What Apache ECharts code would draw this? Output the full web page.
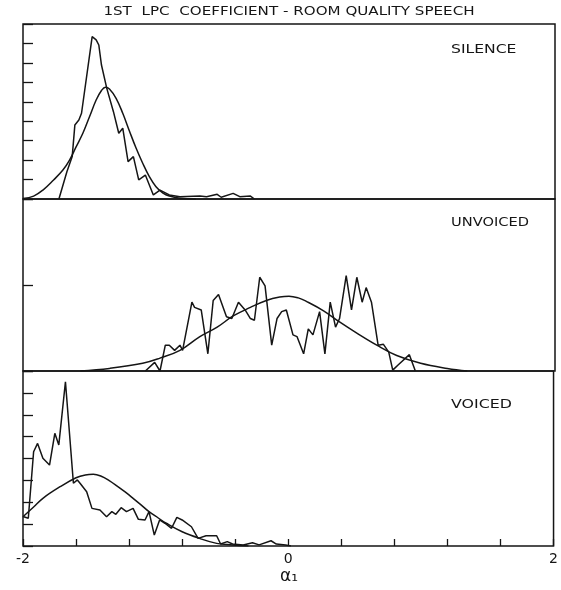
<!DOCTYPE html>
<html>
<head>
<meta charset="utf-8">
<script src="https://cdn.jsdelivr.net/npm/echarts@6/dist/echarts.min.js"></script>
<style>
  html, body { margin: 0; padding: 0; background: #fff; }
  #chart { width: 561px; height: 590px; }
</style>
</head>
<body>
<div id="chart"></div>
<script>
// histogram (jagged) and fitted curve of each class, [alpha1, count]
var silenceHist = [[-1.73,0],[-1.67,1.40],[-1.63,2.18],[-1.61,3.81],[-1.58,4.06],[-1.56,4.41],[-1.48,8.35],[-1.45,8.18],[-1.43,7.92],[-1.41,6.89],[-1.37,5.69],[-1.32,4.49],[-1.28,3.38],[-1.25,3.64],[-1.21,1.92],[-1.17,2.18],[-1.13,0.98],[-1.08,1.23],[-1.02,0.21],[-0.97,0.46],[-0.90,0.21],[-0.82,0.12],[-0.67,0.15],[-0.62,0.12],[-0.54,0.24],[-0.51,0.09],[-0.42,0.29],[-0.37,0.12],[-0.29,0.15],[-0.26,0]];
var silenceFit = [[-2.0,0.02],[-1.92,0.15],[-1.85,0.46],[-1.77,0.98],[-1.70,1.49],[-1.65,2.0],[-1.60,2.69],[-1.55,3.38],[-1.50,4.23],[-1.45,5.09],[-1.41,5.58],[-1.38,5.75],[-1.35,5.66],[-1.30,5.18],[-1.25,4.41],[-1.20,3.50],[-1.15,2.62],[-1.10,1.84],[-1.05,1.15],[-1.00,0.63],[-0.95,0.32],[-0.90,0.15],[-0.82,0.04],[-0.70,0]];

var unvoicedHist = [[-1.08,0],[-1.01,0.10],[-0.97,0],[-0.93,0.30],[-0.90,0.30],[-0.86,0.24],[-0.82,0.30],[-0.80,0.24],[-0.73,0.80],[-0.71,0.74],[-0.66,0.71],[-0.61,0.20],[-0.57,0.82],[-0.53,0.89],[-0.47,0.63],[-0.43,0.61],[-0.38,0.80],[-0.33,0.71],[-0.29,0.61],[-0.26,0.59],[-0.22,1.09],[-0.18,0.99],[-0.13,0.30],[-0.09,0.61],[-0.055,0.69],[-0.02,0.71],[0.03,0.42],[0.06,0.40],[0.11,0.20],[0.145,0.49],[0.18,0.42],[0.23,0.69],[0.27,0.20],[0.31,0.80],[0.35,0.51],[0.38,0.61],[0.43,1.11],[0.47,0.71],[0.51,1.09],[0.55,0.80],[0.58,0.97],[0.62,0.80],[0.67,0.30],[0.71,0.31],[0.75,0.22],[0.78,0.01],[0.82,0.07],[0.905,0.19],[0.95,0]];
var unvoicedFit = [[-1.57,0],[-1.35,0.03],[-1.10,0.09],[-0.97,0.15],[-0.82,0.24],[-0.67,0.40],[-0.54,0.51],[-0.42,0.64],[-0.29,0.74],[-0.17,0.82],[-0.07,0.86],[0.0,0.87],[0.07,0.85],[0.13,0.81],[0.26,0.70],[0.38,0.57],[0.51,0.44],[0.66,0.30],[0.81,0.18],[0.99,0.09],[1.19,0.03],[1.34,0]];

var voicedHist = [[-2.0,1.35],[-1.96,1.27],[-1.92,4.31],[-1.89,4.69],[-1.85,4.01],[-1.80,3.70],[-1.76,5.15],[-1.73,4.62],[-1.68,7.51],[-1.62,2.87],[-1.59,3.02],[-1.57,2.87],[-1.52,2.48],[-1.48,1.72],[-1.42,1.65],[-1.37,1.34],[-1.33,1.57],[-1.30,1.45],[-1.26,1.75],[-1.22,1.57],[-1.17,1.72],[-1.13,1.22],[-1.08,1.19],[-1.05,1.57],[-1.01,0.50],[-0.97,1.19],[-0.93,1.04],[-0.88,0.81],[-0.84,1.31],[-0.80,1.19],[-0.73,0.88],[-0.68,0.35],[-0.62,0.47],[-0.54,0.47],[-0.51,0.09],[-0.46,0.20],[-0.42,0.09],[-0.34,0.05],[-0.27,0.15],[-0.22,0.05],[-0.13,0.24],[-0.09,0.09],[-0.02,0.05],[0.02,0]];
var voicedFit = [[-2.0,1.34],[-1.92,1.78],[-1.85,2.18],[-1.72,2.71],[-1.60,3.12],[-1.53,3.25],[-1.47,3.28],[-1.41,3.19],[-1.35,2.99],[-1.29,2.74],[-1.23,2.47],[-1.17,2.18],[-1.11,1.88],[-1.05,1.57],[-0.98,1.28],[-0.92,1.04],[-0.80,0.65],[-0.67,0.35],[-0.54,0.12],[-0.42,0.05],[-0.30,0]];

var panelNames = ['SILENCE', 'UNVOICED', 'VOICED'];
var yMax = [9, 2, 8];
var xTickLabels = ['-2', '0', '2'];
var titleText = '1ST  LPC  COEFFICIENT - ROOM QUALITY SPEECH';

var ink = '#151515';
var font = 'DejaVu Sans';

function xLabel(v) {
  var r = Math.round(v * 10) / 10;
  if (r === -2) return xTickLabels[0];
  if (r === 0) return xTickLabels[1];
  if (r === 2) return xTickLabels[2];
  return '';
}

function lineSeries(data, idx, smooth) {
  return {
    type: 'line',
    xAxisIndex: idx,
    yAxisIndex: idx,
    data: data,
    showSymbol: false,
    smooth: smooth ? 0.4 : false,
    lineStyle: { color: ink, width: 1.5 },
    silent: true
  };
}

var grids = [
  { left: 23, right: 6, top: 24, height: 175 },
  { left: 23, right: 6, top: 199, height: 172 },
  { left: 23, right: 6, top: 371, height: 175 }
];
grids.forEach(function (g) {
  g.show = true;
  g.borderColor = ink;
  g.borderWidth = 1.5;
  g.containLabel = false;
});

var xAxes = [], yAxes = [];
for (var i = 0; i < 3; i++) {
  var last = i === 2;
  xAxes.push({
    type: 'value', gridIndex: i, min: -2, max: 2, interval: 0.4, position: 'bottom',
    axisLine: { show: false, onZero: false },
    axisTick: { show: last, inside: true, length: 7, lineStyle: { color: ink, width: 1.3 } },
    axisLabel: { show: last, formatter: xLabel, color: ink, fontSize: 14, fontFamily: font, margin: 6 },
    splitLine: { show: false }
  });
  yAxes.push({
    type: 'value', gridIndex: i, min: 0, max: yMax[i], interval: 1, position: 'left',
    axisLine: { show: false, onZero: false },
    axisTick: { show: true, inside: true, length: 10, lineStyle: { color: ink, width: 1.3 } },
    axisLabel: { show: false },
    splitLine: { show: false }
  });
}

// lettering-guide text is wide, so stretch it horizontally
var labelY = [50, 223, 405];
var labelScale = [1.3, 1.22, 1.32];
var graphics = panelNames.map(function (name, k) {
  return {
    type: 'text', x: 451, y: labelY[k], scaleX: labelScale[k],
    style: { text: name, fill: ink, font: '12px "' + font + '"', textAlign: 'left', textVerticalAlign: 'middle' }
  };
});
graphics.push({
  type: 'text', x: 289, y: 12, scaleX: 1.26,
  style: { text: titleText, fill: ink, font: '12px "' + font + '"', textAlign: 'center', textVerticalAlign: 'middle' }
});
graphics.push({
  type: 'text', x: 289, y: 577,
  style: { text: 'α₁', fill: ink, font: '17px "' + font + '"', textAlign: 'center', textVerticalAlign: 'middle' }
});

var chart = echarts.init(document.getElementById('chart'));
chart.setOption({
  animation: false,
  backgroundColor: '#fff',
  grid: grids,
  xAxis: xAxes,
  yAxis: yAxes,
  graphic: graphics,
  series: [
    lineSeries(silenceHist, 0, false),
    lineSeries(silenceFit, 0, true),
    lineSeries(unvoicedHist, 1, false),
    lineSeries(unvoicedFit, 1, true),
    lineSeries(voicedHist, 2, false),
    lineSeries(voicedFit, 2, true)
  ]
});
</script>
</body>
</html>
